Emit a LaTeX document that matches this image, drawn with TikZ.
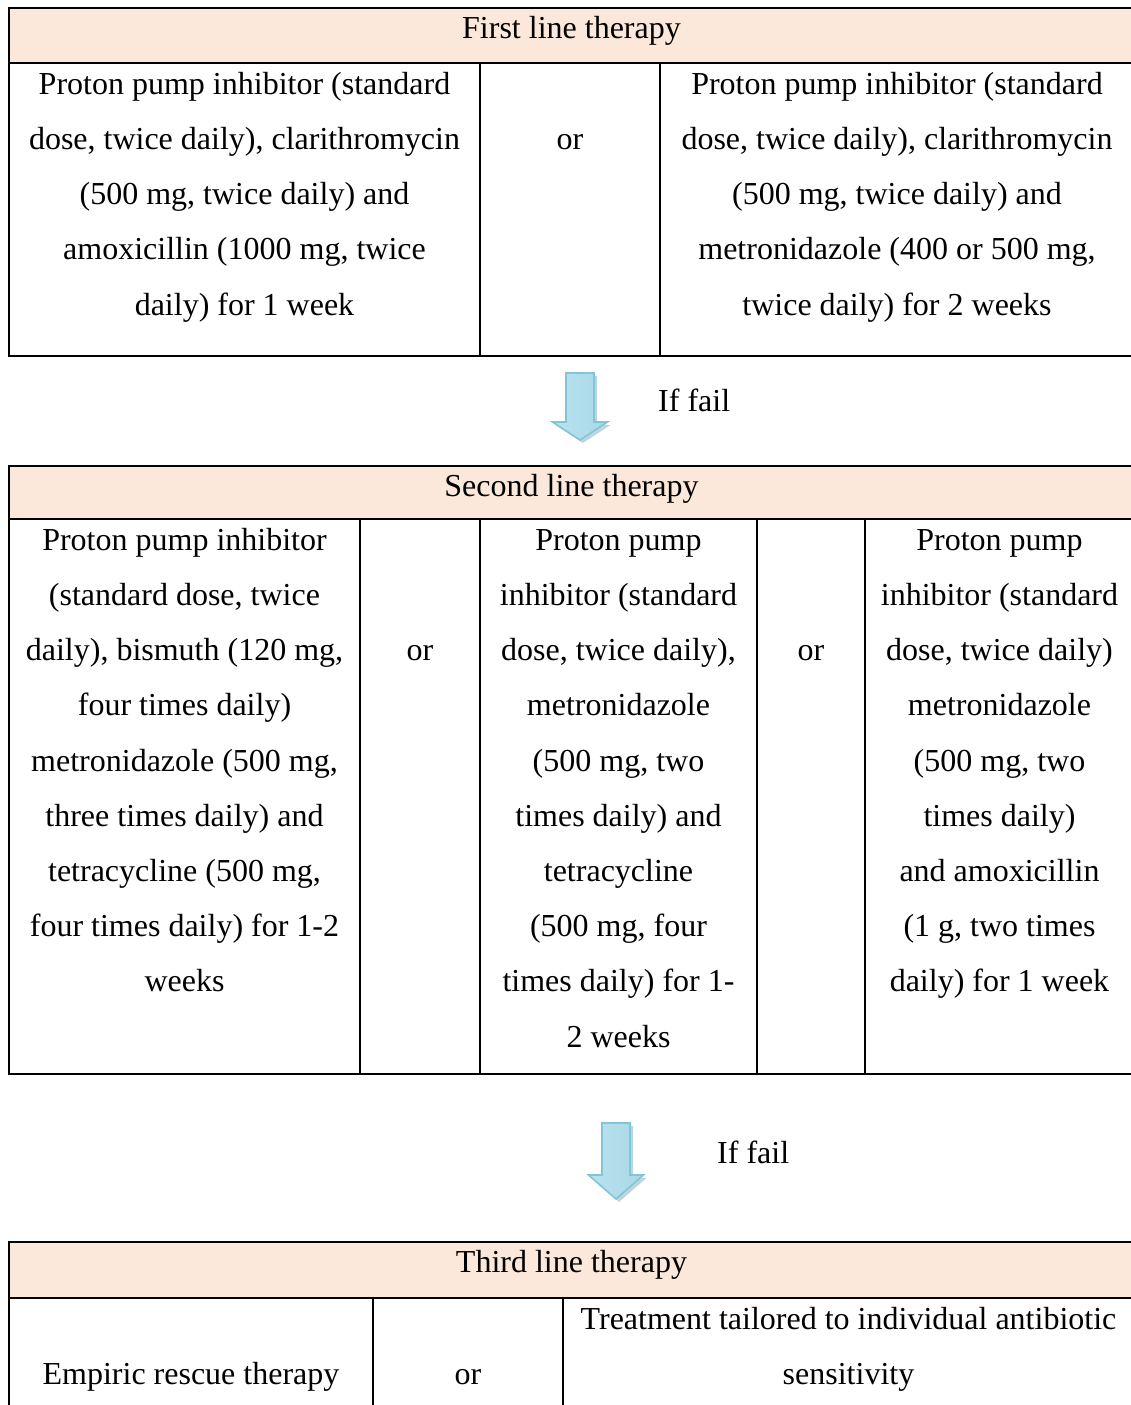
\documentclass[tikz,border=0pt]{standalone}
\usepackage{fontspec}
\setmainfont{Liberation Serif}
\definecolor{hdr}{RGB}{251,232,218}
\definecolor{arrEdge}{RGB}{128,198,218}
\definecolor{arrL}{RGB}{186,226,238}
\definecolor{arrM}{RGB}{230,244,249}
\definecolor{arrR}{RGB}{168,216,232}
\definecolor{arrShadow}{RGB}{120,160,172}
\newcommand\cellstrut{\rule{0pt}{24pt}}
\newcommand\blockarrow[4]{%
  \fill[arrShadow,opacity=0.45] (#1-11,#2+3) -- (#1+17,#2+3) -- (#1+17,#3+3) -- (#1+30.5,#3+3) -- (#1+3,#4+3) -- (#1-24.5,#3+3) -- (#1-11,#3+3) -- cycle;
  \path[left color=arrL,middle color=arrM,right color=arrR,draw=arrEdge,line width=1.6pt,line join=miter]
    (#1-14,#2) -- (#1+14,#2) -- (#1+14,#3) -- (#1+27.5,#3) -- (#1,#4) -- (#1-27.5,#3) -- (#1-14,#3) -- cycle;}
\begin{document}
\begin{tikzpicture}[x=1pt,y=-1pt,
  grid/.style={line width=2.6pt,black,line cap=rect},
  txt/.style={font=\fontsize{32}{55.2}\selectfont,align=center,inner sep=0pt,anchor=north},
  lbl/.style={font=\fontsize{32}{55.2}\selectfont,inner sep=0pt,anchor=base west}]
\useasboundingbox (0,0) rectangle (1131,1405);
\clip (0,0) rectangle (1131,1405);
% ---------- Table 1 ----------
\fill[hdr] (9,8) rectangle (1134,63);
\draw[grid] (9,8) rectangle (1134,356);
\draw[grid] (9,63) -- (1134,63);
\draw[grid] (480,63) -- (480,356);
\draw[grid] (660,63) -- (660,356);
\node[txt] (h1) at (571.5,38-24) {\cellstrut First line therapy};
\node[txt] (t1a) at (244.5,94-24) {\cellstrut Proton pump inhibitor (standard\\dose, twice daily), clarithromycin\\(500 mg, twice daily) and\\amoxicillin (1000 mg, twice\\daily) for 1 week};
\node[txt] (t1or) at (570,149-24) {\cellstrut or};
\node[txt] (t1b) at (897,94-24) {\cellstrut Proton pump inhibitor (standard\\dose, twice daily), clarithromycin\\(500 mg, twice daily) and\\metronidazole (400 or 500 mg,\\twice daily) for 2 weeks};
% ---------- Arrow 1 ----------
\blockarrow{580}{373}{422}{440}
\node[lbl] (f1) at (658,411) {If fail};
% ---------- Table 2 ----------
\fill[hdr] (9,466) rectangle (1134,519);
\draw[grid] (9,466) rectangle (1134,1074);
\draw[grid] (9,519) -- (1134,519);
\foreach \xx in {360,480,757,865} \draw[grid] (\xx,519) -- (\xx,1074);
\node[txt] (h2) at (571.5,496-24) {\cellstrut Second line therapy};
\node[txt] (t2a) at (184.5,550-24) {\cellstrut Proton pump inhibitor\\(standard dose, twice\\daily), bismuth (120 mg,\\four times daily)\\metronidazole (500 mg,\\three times daily) and\\tetracycline (500 mg,\\four times daily) for 1-2\\weeks};
\node[txt] (t2or1) at (420,660.4-24) {\cellstrut or};
\node[txt] (t2b) at (618.5,550-24) {\cellstrut Proton pump\\inhibitor (standard\\dose, twice daily),\\metronidazole\\(500 mg, two\\times daily) and\\tetracycline\\(500 mg, four\\times daily) for 1-\\2 weeks};
\node[txt] (t2or2) at (811,660.4-24) {\cellstrut or};
\node[txt] (t2c) at (999.5,550-24) {\cellstrut Proton pump\\inhibitor (standard\\dose, twice daily)\\metronidazole\\(500 mg, two\\times daily)\\and amoxicillin\\(1 g, two times\\daily) for 1 week};
% ---------- Arrow 2 ----------
\blockarrow{616}{1123}{1175}{1199}
\node[lbl] (f2) at (717,1163) {If fail};
% ---------- Table 3 ----------
\fill[hdr] (9,1242) rectangle (1134,1298);
\draw[grid] (9,1242) rectangle (1134,1440);
\draw[grid] (9,1298) -- (1134,1298);
\draw[grid] (373,1298) -- (373,1440);
\draw[grid] (563,1298) -- (563,1440);
\node[txt] (h3) at (571.5,1272-24) {\cellstrut Third line therapy};
\node[txt] (t3a) at (191,1384-24) {\cellstrut Empiric rescue therapy};
\node[txt] (t3or) at (468,1384-24) {\cellstrut or};
\node[txt] (t3b) at (848.5,1329-24) {\cellstrut Treatment tailored to individual antibiotic\\sensitivity};
\end{tikzpicture}
\end{document}
